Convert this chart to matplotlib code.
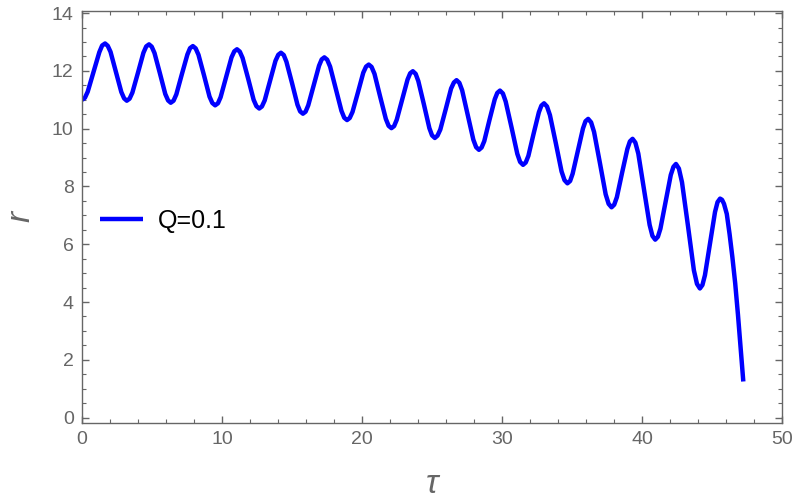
import matplotlib
matplotlib.use("Agg")
import matplotlib.pyplot as plt
from matplotlib.ticker import MultipleLocator

# curve (tau, r), one row per half-oscillation
tau = [0.00, 0.21, 0.41, 0.83, 1.24, 1.44,
       1.65, 1.84, 2.04, 2.43, 2.81, 3.01,
       3.20, 3.40, 3.60, 4.00, 4.39, 4.59,
       4.79, 4.98, 5.18, 5.57, 5.95, 6.15,
       6.34, 6.54, 6.74, 7.13, 7.53, 7.72,
       7.92, 8.12, 8.32, 8.72, 9.11, 9.31,
       9.51, 9.71, 9.90, 10.29, 10.68, 10.88,
       11.07, 11.27, 11.47, 11.87, 12.26, 12.46,
       12.66, 12.85, 13.05, 13.44, 13.82, 14.02,
       14.21, 14.41, 14.60, 15.00, 15.39, 15.58,
       15.78, 15.97, 16.16, 16.55, 16.93, 17.12,
       17.31, 17.51, 17.72, 18.12, 18.53, 18.73,
       18.93, 19.12, 19.32, 19.71, 20.09, 20.29,
       20.48, 20.68, 20.89, 21.29, 21.70, 21.90,
       22.10, 22.29, 22.48, 22.87, 23.25, 23.44,
       23.63, 23.83, 24.02, 24.42, 24.81, 25.00,
       25.20, 25.39, 25.59, 25.98, 26.36, 26.56,
       26.75, 26.95, 27.15, 27.55, 27.95, 28.15,
       28.35, 28.54, 28.73, 29.10, 29.48, 29.66,
       29.85, 30.06, 30.26, 30.68, 31.09, 31.29,
       31.50, 31.69, 31.88, 32.25, 32.63, 32.81,
       33.00, 33.21, 33.42, 33.84, 34.25, 34.46,
       34.67, 34.86, 35.04, 35.41, 35.78, 35.96,
       36.15, 36.36, 36.57, 36.99, 37.40, 37.61,
       37.82, 38.01, 38.20, 38.57, 38.95, 39.13,
       39.32, 39.52, 39.73, 40.13, 40.54, 40.74,
       40.94, 41.13, 41.31, 41.68, 42.05, 42.24,
       42.42, 42.63, 42.85, 43.28, 43.70, 43.92,
       44.13, 44.31, 44.49, 44.85, 45.21, 45.39,
       45.57, 45.71, 45.85, 46.05, 46.25, 46.45,
       46.65, 46.85, 47.05, 47.23]
r = [11.00, 11.07, 11.28, 11.97, 12.65, 12.88,
     12.95, 12.87, 12.66, 11.96, 11.27, 11.05,
     10.97, 11.04, 11.25, 11.94, 12.63, 12.85,
     12.92, 12.84, 12.62, 11.91, 11.20, 10.98,
     10.90, 10.97, 11.19, 11.88, 12.57, 12.79,
     12.86, 12.78, 12.56, 11.84, 11.11, 10.89,
     10.81, 10.88, 11.09, 11.78, 12.47, 12.68,
     12.75, 12.67, 12.45, 11.73, 11.00, 10.78,
     10.70, 10.77, 10.98, 11.67, 12.35, 12.56,
     12.63, 12.55, 12.32, 11.58, 10.83, 10.60,
     10.52, 10.59, 10.81, 11.50, 12.18, 12.40,
     12.47, 12.39, 12.15, 11.39, 10.62, 10.38,
     10.30, 10.37, 10.58, 11.26, 11.94, 12.15,
     12.22, 12.14, 11.90, 11.12, 10.34, 10.10,
     10.02, 10.09, 10.31, 11.01, 11.70, 11.92,
     11.99, 11.90, 11.65, 10.84, 10.02, 9.77,
     9.68, 9.76, 9.97, 10.68, 11.39, 11.60,
     11.68, 11.59, 11.33, 10.48, 9.62, 9.36,
     9.27, 9.35, 9.57, 10.30, 11.02, 11.24,
     11.32, 11.22, 10.94, 10.04, 9.13, 8.85,
     8.75, 8.83, 9.06, 9.82, 10.57, 10.80,
     10.88, 10.77, 10.47, 9.50, 8.52, 8.22,
     8.11, 8.19, 8.44, 9.23, 10.01, 10.26,
     10.34, 10.22, 9.89, 8.81, 7.73, 7.40,
     7.28, 7.37, 7.63, 8.47, 9.30, 9.56,
     9.65, 9.52, 9.14, 7.91, 6.67, 6.29,
     6.16, 6.26, 6.54, 7.47, 8.40, 8.68,
     8.78, 8.62, 8.15, 6.63, 5.10, 4.63,
     4.47, 4.59, 4.93, 6.03, 7.12, 7.46,
     7.58, 7.54, 7.40, 7.05, 6.35, 5.55,
     4.65, 3.55, 2.35, 1.25]

x_ticks = [0, 10, 20, 30, 40, 50]
y_ticks = [0, 2, 4, 6, 8, 10, 12, 14]
label = "Q=0.1"

gray = "#666666"
plt.rcParams["font.family"] = ["Liberation Sans", "DejaVu Sans"]

fig = plt.figure(figsize=(7.92, 5.03), dpi=100)
ax = fig.add_axes([0.1035, 0.160, 0.884, 0.819])

ax.plot(tau, r, color="#0000ff", lw=3.2, solid_joinstyle="round",
        solid_capstyle="butt", label=label)

ax.set_xlim(0, 50)
ax.set_ylim(-0.17, 14.09)
ax.set_xticks(x_ticks)
ax.set_yticks(y_ticks)
ax.xaxis.set_minor_locator(MultipleLocator(2))
ax.yaxis.set_minor_locator(MultipleLocator(0.5))

for s in ax.spines.values():
    s.set_color(gray)
    s.set_linewidth(1.0)
ax.tick_params(which="both", direction="in", top=True, right=True,
               colors=gray, labelsize=14, labelcolor=gray)
ax.tick_params(which="major", length=5, width=1.0, pad=6)
ax.tick_params(which="minor", length=3, width=0.8)

ax.set_xlabel("τ", fontsize=24, style="italic", color=gray, labelpad=15)
ax.set_ylabel("r", fontsize=24, style="italic", color=gray, labelpad=11)

ax.legend(loc="center left", bbox_to_anchor=(-0.006, 0.490), frameon=False,
          fontsize=18, handlelength=1.7, handletextpad=0.6, borderpad=0.4)

fig.savefig("out.png", dpi=100)
